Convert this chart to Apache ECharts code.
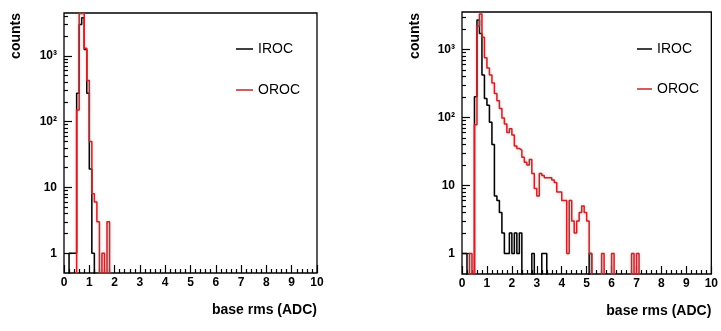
<!DOCTYPE html>
<html>
<head>
<meta charset="utf-8">
<script src="https://cdn.jsdelivr.net/npm/echarts@6/dist/echarts.min.js"></script>
<style>
html,body{margin:0;padding:0;background:#fff;}
#chart{width:721px;height:331px;}
</style>
</head>
<body>
<div id="chart"></div>
<script>
// ---- data (bin width 0.1 ADC, 100 bins from 0 to 10) ----
const binWidth = 0.1;
const nBins = 100;
const xTicks = [0,1,2,3,4,5,6,7,8,9,10];
const yMajorTicks = [1, 10, 100, 1000];
const yMajorLabels = ['1', '10', '10\u00B2', '10\u00B3'];
const yMinorTicks = [2,3,4,5,6,7,8,9,20,30,40,50,60,70,80,90,200,300,400,500,600,700,800,900,2000,3000,4000];

// left panel (non-zero bins: [binIndex, counts])
const leftIROC = [[2,1],[3,1],[4,1],[5,270],[6,3000],[7,3800],[8,1250],[9,270],[10,19],[11,1]];
const leftOROC = [[5,150],[6,4400],[7,4400],[8,1300],[9,420],[10,50],[11,8],[12,6],[13,3],[15,1],[17,3]];

// right panel
const rightIROC = [[0,1],[1,1],[5,200],[6,2700],[7,1700],[8,420],[9,190],[10,150],[11,85],[12,40],[13,7],[14,6],[15,4],[16,2],[17,1],[18,1],[19,2],[20,1],[21,2],[22,1],[23,2],[28,1],[32,1],[33,1],[51,1]];
const rightOROC = [[3,1],[5,78],[6,2200],[7,3300],[8,1500],[9,750],[10,530],[11,420],[12,320],[13,225],[14,175],[15,135],[16,98],[17,80],[18,60],[19,68],[20,55],[21,38],[22,35],[23,33],[24,26],[25,22],[26,20],[27,24],[28,15],[29,9],[30,7],[31,15],[32,14],[33,13],[34,13],[35,13],[36,12],[37,11],[38,8],[39,8],[40,6],[41,6],[42,1],[43,6],[44,3],[45,2],[46,3],[47,4],[48,5],[49,4],[50,3],[51,1],[56,1],[60,1],[68,1],[70,1]];

const yMaxLeft = 4470, yMaxRight = 3530, yMin = 0.5;
const FLOOR = 0.1; // empty bins drawn below the frame (clipped), like ROOT

function histPoints(sparse) {
  const counts = new Array(nBins).fill(0);
  sparse.forEach(([i, v]) => { counts[i] = v; });
  const pts = counts.map((v, i) => [+(i * binWidth).toFixed(2), v > 0 ? v : FLOOR]);
  pts.push([nBins * binWidth, counts[nBins - 1] > 0 ? counts[nBins - 1] : FLOOR]);
  return pts;
}

const FONT = 'Liberation Sans';
const RED = '#c4262c';
const grids = [
  {left: 64, top: 13, width: 253, height: 260, show: true, borderColor: '#000', borderWidth: 1.3, backgroundColor: 'transparent'},
  {left: 462, top: 12, width: 253, height: 262, show: true, borderColor: '#000', borderWidth: 1.3, backgroundColor: 'transparent'}
];

function xAx(g) {
  return {
    type: 'value', gridIndex: g, min: 0, max: 10, interval: 1, position: 'bottom',
    axisLine: {show: false},
    axisTick: {show: true, inside: true, length: 8, lineStyle: {color: '#000', width: 1.2}},
    minorTick: {show: true, splitNumber: 5, length: 4, lineStyle: {color: '#000', width: 1.2}},
    splitLine: {show: false}, minorSplitLine: {show: false},
    axisLabel: {color: '#000', fontFamily: FONT, fontWeight: 'bold', fontSize: 12, margin: 4,
      customValues: xTicks},
    name: 'base rms (ADC)', nameLocation: 'end', nameGap: 0,
    nameTextStyle: {color: '#000', fontFamily: FONT, fontWeight: 'bold', fontSize: 14,
      align: 'right', verticalAlign: 'top', padding: [30, 0, 0, 0]}
  };
}
function yMajor(g, max) {
  return {
    type: 'log', logBase: 10, gridIndex: g, min: yMin, max: max, position: 'left',
    axisLine: {show: false},
    axisTick: {show: true, inside: true, length: 8, customValues: yMajorTicks, lineStyle: {color: '#000', width: 1.2}},
    splitLine: {show: false},
    axisLabel: {color: '#000', fontFamily: FONT, fontWeight: 'bold', fontSize: 12, margin: 7,
      customValues: yMajorTicks,
      formatter: v => { const i = yMajorTicks.indexOf(Math.round(v)); return i >= 0 ? yMajorLabels[i] : ''; }}
  };
}
function yMinor(g, max) {
  return {
    type: 'log', logBase: 10, gridIndex: g, min: yMin, max: max, position: 'left',
    axisLine: {show: false},
    axisTick: {show: true, inside: true, length: 4, customValues: yMinorTicks.filter(v => v <= max), lineStyle: {color: '#000', width: 1.2}},
    splitLine: {show: false},
    axisLabel: {show: false}
  };
}
function series(name, data, xi, yi, color, z) {
  return {
    name: name, type: 'line', step: 'end', xAxisIndex: xi, yAxisIndex: yi,
    data: histPoints(data), showSymbol: false, symbol: 'none', clip: true, z: z,
    color: color,
    lineStyle: {color: color, width: 1.5,
      shadowColor: color === RED ? 'rgba(215,110,110,0.55)' : 'rgba(0,0,0,0.15)', shadowBlur: color === RED ? 3 : 1},
    emphasis: {disabled: true}
  };
}
function legend(name, left, top, w) {
  return {
    data: [name], left: left, top: top, orient: 'vertical', icon: 'rect',
    itemWidth: w, itemHeight: 1.5, selectedMode: false,
    textStyle: {color: '#000', fontFamily: FONT, fontSize: 14}
  };
}
function ytitle(x) {
  return {type: 'text', x: x, y: 13, rotation: Math.PI / 2,
    style: {text: 'counts', fill: '#000', font: 'bold 14px "Liberation Sans"', align: 'right', verticalAlign: 'middle'}};
}

const chart = echarts.init(document.getElementById('chart'), null, {renderer: 'canvas'});
chart.setOption({
  animation: false,
  backgroundColor: '#fff',
  grid: grids,
  xAxis: [xAx(0), xAx(1)],
  yAxis: [yMajor(0, yMaxLeft), yMinor(0, yMaxLeft), yMajor(1, yMaxRight), yMinor(1, yMaxRight)],
  legend: [legend('IROC', 231, 37, 17), legend('OROC', 231, 78, 17), legend('IROC', 632, 37, 15), legend('OROC', 632, 77, 15)],
  graphic: [ytitle(16), ytitle(415)],
  series: [
    series('IROC', leftIROC, 0, 0, '#000', 2),
    series('OROC', leftOROC, 0, 0, RED, 3),
    series('IROC', rightIROC, 1, 2, '#000', 2),
    series('OROC', rightOROC, 1, 2, RED, 3)
  ]
});
</script>
</body>
</html>
